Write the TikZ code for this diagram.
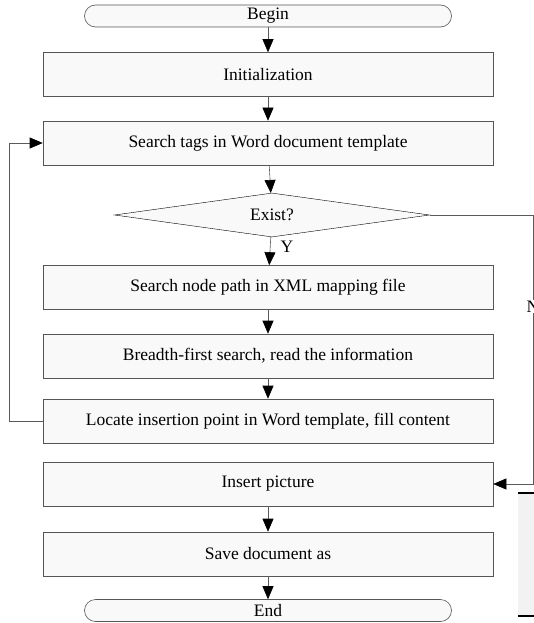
\documentclass[tikz,border=0pt]{standalone}
\usepackage{fontspec}
\setmainfont{Liberation Serif}
\usetikzlibrary{arrows.meta,positioning,shapes.geometric}
\definecolor{boxfill}{RGB}{249,249,249}
\definecolor{boxline}{RGB}{85,85,85}
\definecolor{flowline}{RGB}{90,90,90}
\definecolor{stripfill}{RGB}{242,242,242}
\tikzset{
  procbox/.style={draw=boxline, fill=boxfill, semithick, minimum width=450pt, minimum height=44pt, inner sep=0pt, font=\fontsize{17.5}{20}\selectfont},
  termbox/.style={draw=boxline, fill=boxfill, semithick, rounded corners=11pt, minimum width=367pt, minimum height=22pt, inner sep=0pt, font=\fontsize{17.5}{20}\selectfont},
  decbox/.style={diamond, aspect=7, draw=black, fill=boxfill, thin, minimum width=315pt, minimum height=44pt, inner sep=0pt, font=\fontsize{17.5}{20}\selectfont},
  flow/.style={-{Triangle[length=13pt,width=11pt,color=black]}, flowline, semithick},
  lbl/.style={font=\fontsize{17.5}{20}\selectfont, text=black, inner sep=1pt},
}
\begin{document}
\begin{tikzpicture}[x=1pt,y=-1pt]
\useasboundingbox (0,0) rectangle (534,623);
% main column
\node[termbox] (begin) at (268,16) {Begin};
\node[procbox] (init) at (268,74.5) {Initialization};
\node[procbox] (tags) at (268,143) {Search tags in Word document template};
\node[decbox] (exist) at (272,215) {Exist?};
\node[procbox] (nodepath) at (268,287.5) {Search node path in XML mapping file};
\node[procbox] (bfs) at (268,356) {Breadth-first search, read the information};
\node[procbox] (locate) at (268,421) {Locate insertion point in Word template, fill content};
\node[procbox] (insert) at (268,484) {Insert picture};
\node[procbox] (save) at (268,554) {Save document as};
\node[termbox] (end) at (268,610.5) {End};
% arrows
\draw[flow] (begin) -- (init);
\draw[flow] (init) -- (tags);
\draw[flow] (tags) -- (exist);
\draw[flow] (exist) -- node[lbl, right=9pt, pos=0.35] (ylab) {Y} (nodepath);
\draw[flow] (nodepath) -- (bfs);
\draw[flow] (bfs) -- (locate);
\draw[flow] (insert) -- (save);
\draw[flow] (save) -- (end);
% loop back and the N branch
\draw[flow] (locate.west) -- ++(-33,0) |- (tags.west);
\coordinate (nturn) at (533,215);
\draw[flow] (exist.east) -- (nturn) |- node[lbl, fill=white, pos=0.17] (nlab) {N} (insert.east);
% strip at the lower right edge
\fill[stripfill] (518,493) rectangle (534,616);
\draw[very thick] (518,493) -- (534,493) (518,616) -- (534,616);
\end{tikzpicture}
\end{document}
